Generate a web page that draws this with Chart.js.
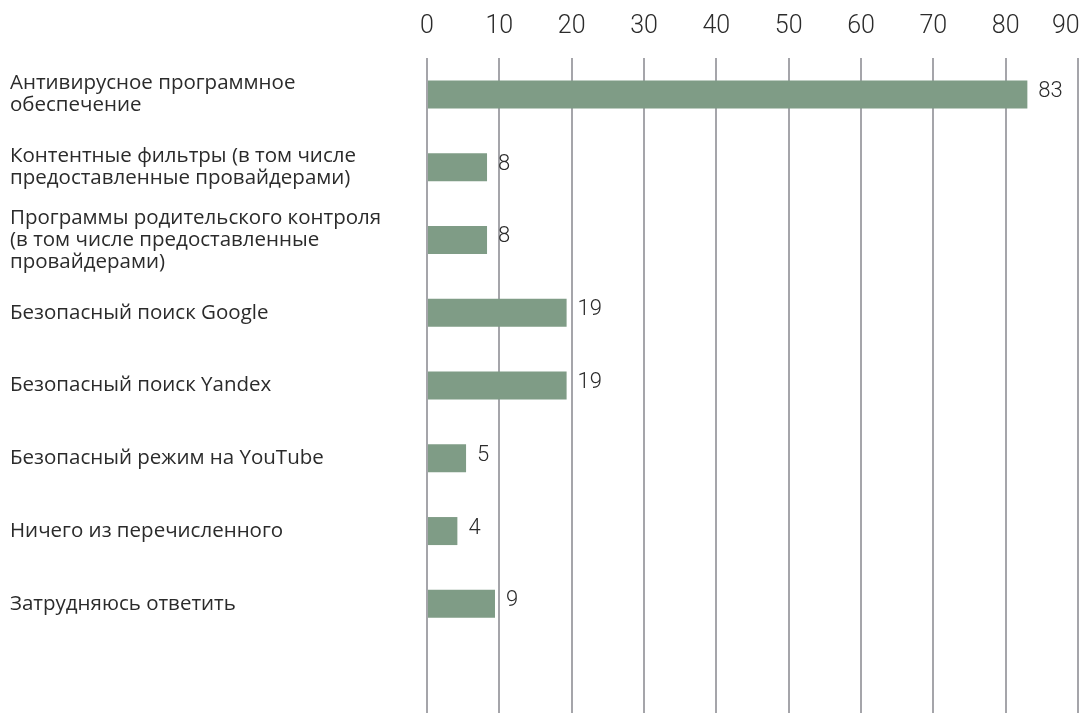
<!DOCTYPE html>
<html>
<head>
<meta charset="utf-8">
<script src="https://cdn.jsdelivr.net/npm/chart.js@4/dist/chart.umd.min.js"></script>
<style>
  html, body { margin: 0; padding: 0; background: #fff; }
  #wrap { width: 1089px; height: 713px; }
</style>
</head>
<body>
<div id="wrap"><canvas id="chart"></canvas></div>
<script>
// подписи категорий (по строкам)
const categories = [
    ['Антивирусное программное', 'обеспечение'],
    ['Контентные фильтры (в том числе', 'предоставленные провайдерами)'],
    ['Программы родительского контроля', '(в том числе предоставленные', 'провайдерами)'],
    'Безопасный поиск Google',
    'Безопасный поиск Yandex',
    'Безопасный режим на YouTube',
    'Ничего из перечисленного',
    'Затрудняюсь ответить',
    ''
];
// значения, %
const values = [83, 8.3, 8.3, 19.3, 19.3, 5.4, 4.2, 9.4, null];
const xTicks = [0, 10, 20, 30, 40, 50, 60, 70, 80, 90];

// подписи значений справа от столбцов
const valueLabels = {
    id: 'valueLabels',
    afterDatasetsDraw(chart) {
        const ctx = chart.ctx;
        const meta = chart.getDatasetMeta(0);
        ctx.save();
        ctx.font = '300 22px Roboto';
        ctx.fillStyle = '#2b2b2b';
        ctx.textAlign = 'left';
        ctx.textBaseline = 'middle';
        meta.data.forEach((bar, i) => {
            if (values[i] === null) return;
            ctx.fillText(Math.round(values[i]), bar.x + 11, bar.y - 3);
        });
        ctx.restore();
    }
};

new Chart(document.getElementById('chart'), {
    type: 'bar',
    data: {
        labels: categories,
        datasets: [{
            data: values,
            backgroundColor: '#7f9c86',
            borderWidth: 0,
            barPercentage: 0.385,
            categoryPercentage: 1
        }]
    },
    options: {
        indexAxis: 'y',
        responsive: true,
        maintainAspectRatio: false,
        animation: false,
        layout: { padding: { left: 10, right: 11, top: 0, bottom: 0 } },
        plugins: {
            legend: { display: false },
            tooltip: { enabled: false }
        },
        scales: {
            x: {
                position: 'top',
                min: 0,
                max: 90,
                afterBuildTicks: scale => { scale.ticks = xTicks.map(v => ({ value: v })); },
                afterFit: scale => {
                    scale.height = 58;
                    scale.paddingLeft = 0;
                    scale.paddingRight = 0;
                },
                grid: { color: '#a5a5aa', lineWidth: 2, drawTicks: false },
                border: { display: false },
                ticks: {
                    font: { family: 'Roboto', size: 25, weight: 300 },
                    color: '#2b2b2b',
                    padding: 16,
                    maxRotation: 0,
                    autoSkip: false,
                    callback: v => v === 90 ? '90    ' : String(v)
                }
            },
            y: {
                afterFit: scale => {
                    scale.width = 417;
                    scale.paddingTop = 0;
                    scale.paddingBottom = 0;
                },
                grid: { display: false },
                border: { display: false },
                ticks: {
                    crossAlign: 'far',
                    font: { family: 'Open Sans', size: 20.5, lineHeight: '22px' },
                    color: '#2b2b2b',
                    autoSkip: false
                }
            }
        }
    },
    plugins: [valueLabels]
});
</script>
</body>
</html>
